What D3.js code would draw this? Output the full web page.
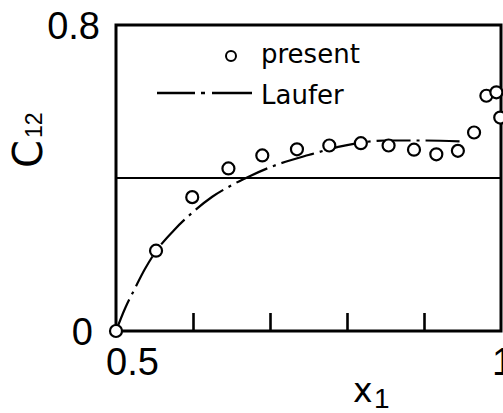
<!DOCTYPE html>
<html>
<head>
<meta charset="utf-8">
<script src="https://cdn.jsdelivr.net/npm/d3@7"></script>
<style>
  html, body { margin: 0; padding: 0; background: #fff; overflow: hidden; }
  svg { display: block; }
</style>
</head>
<body>
<svg id="chart" width="503" height="413"></svg>
<script>
// Measured points ("present")
const presentX = [0.5, 0.552, 0.599, 0.646, 0.690, 0.735, 0.777, 0.818, 0.854, 0.887, 0.916, 0.944, 0.965, 0.981, 0.994, 0.999];
const presentY = [0.0, 0.210, 0.350, 0.425, 0.459, 0.475, 0.485, 0.491, 0.485, 0.474, 0.462, 0.471, 0.519, 0.615, 0.624, 0.558];

// Laufer's distribution
const lauferX = [0.5, 0.512, 0.525, 0.537, 0.55, 0.575, 0.6, 0.625, 0.65, 0.675, 0.7, 0.75, 0.8, 0.85, 0.9, 0.953];
const lauferY = [0.0, 0.060, 0.113, 0.160, 0.203, 0.263, 0.311, 0.351, 0.381, 0.406, 0.428, 0.460, 0.486, 0.498, 0.498, 0.495];

// Horizontal reference level
const refLevel = [0.4];

// Axis ticks and labels
const xTicks = [0.6, 0.7, 0.8, 0.9];
const xLabels = [{ v: 0.5, t: "0.5" }, { v: 1.0, t: "1" }];
const yLabels = [{ v: 0, t: "0" }, { v: 0.8, t: "0.8" }];

const svg = d3.select("#chart");
const x = d3.scaleLinear().domain([0.5, 1.0]).range([116, 501]);
const y = d3.scaleLinear().domain([0, 0.8]).range([331, 25]);

const numFont = "'Liberation Sans', Arial, sans-serif";
const txtFont = "'DejaVu Sans', sans-serif";

// inward ticks on the bottom axis
const xAxis = d3.axisBottom(x).tickValues(xTicks).tickSize(-18).tickFormat("");
const gx = svg.append("g").attr("transform", `translate(0,${y(0)})`).call(xAxis);
gx.select(".domain").remove();
gx.selectAll(".tick line").attr("stroke", "#000").attr("stroke-width", 2.6);

// reference level line
svg.selectAll("line.ref").data(refLevel).enter().append("line")
  .attr("class", "ref")
  .attr("x1", x(0.5)).attr("x2", x(1.0))
  .attr("y1", d => y(d)).attr("y2", d => y(d))
  .attr("stroke", "#000").attr("stroke-width", 2);

// frame
svg.append("rect")
  .attr("x", x(0.5)).attr("y", y(0.8))
  .attr("width", x(1.0) - x(0.5)).attr("height", y(0) - y(0.8))
  .attr("fill", "none").attr("stroke", "#000").attr("stroke-width", 3);

// Laufer curve, dash-dot
const lauferData = lauferX.map((v, i) => [v, lauferY[i]]);
const line = d3.line().x(d => x(d[0])).y(d => y(d[1])).curve(d3.curveMonotoneX);
svg.append("path")
  .datum(lauferData)
  .attr("d", line)
  .attr("fill", "none").attr("stroke", "#000").attr("stroke-width", 2.2)
  .attr("stroke-dasharray", "34,6,3,6");

// measured points
const presentData = presentX.map((v, i) => [v, presentY[i]]);
svg.selectAll("circle.pt").data(presentData).enter().append("circle")
  .attr("class", "pt")
  .attr("cx", d => x(d[0])).attr("cy", d => y(d[1]))
  .attr("r", 6)
  .attr("fill", "#fff").attr("stroke", "#000").attr("stroke-width", 2.2);

// tick labels
svg.selectAll("text.xl").data(xLabels).enter().append("text")
  .attr("class", "xl")
  .attr("x", (d, i) => x(d.v) + (i === 0 ? -10 : -9))
  .attr("y", 375)
  .attr("font-family", numFont).attr("font-size", 38)
  .attr("text-anchor", "start")
  .text(d => d.t);

svg.selectAll("text.yl").data(yLabels).enter().append("text")
  .attr("class", "yl")
  .attr("x", (d, i) => x(0.5) - (i === 0 ? 23 : 16))
  .attr("y", d => y(d.v) + 13.5)
  .attr("font-family", numFont).attr("font-size", 38)
  .attr("text-anchor", "end")
  .text(d => d.t);

// axis titles
const xt = svg.append("text")
  .attr("x", 353).attr("y", 402)
  .attr("font-family", txtFont).attr("font-size", 33);
xt.append("tspan").text("x");
xt.append("tspan").attr("x", 374).attr("y", 408)
  .attr("font-family", numFont).attr("font-size", 28).text("1");

const yt = svg.append("text")
  .attr("transform", "translate(42,168) rotate(-90)")
  .attr("font-family", txtFont).attr("font-size", 40);
yt.append("tspan").text("C");
yt.append("tspan").attr("dx", 2)
  .attr("font-family", numFont).attr("font-size", 23).text("12");

// legend
svg.append("circle")
  .attr("cx", 231).attr("cy", 56).attr("r", 5)
  .attr("fill", "#fff").attr("stroke", "#000").attr("stroke-width", 2);
svg.append("text")
  .attr("x", 261).attr("y", 63)
  .attr("font-family", txtFont).attr("font-size", 26)
  .text("present");

svg.append("line")
  .attr("x1", 157).attr("x2", 252).attr("y1", 93).attr("y2", 93)
  .attr("stroke", "#000").attr("stroke-width", 2.4)
  .attr("stroke-dasharray", "38,6,4,7,40");
svg.append("text")
  .attr("x", 261).attr("y", 104)
  .attr("font-family", txtFont).attr("font-size", 26)
  .text("Laufer");
</script>
</body>
</html>
